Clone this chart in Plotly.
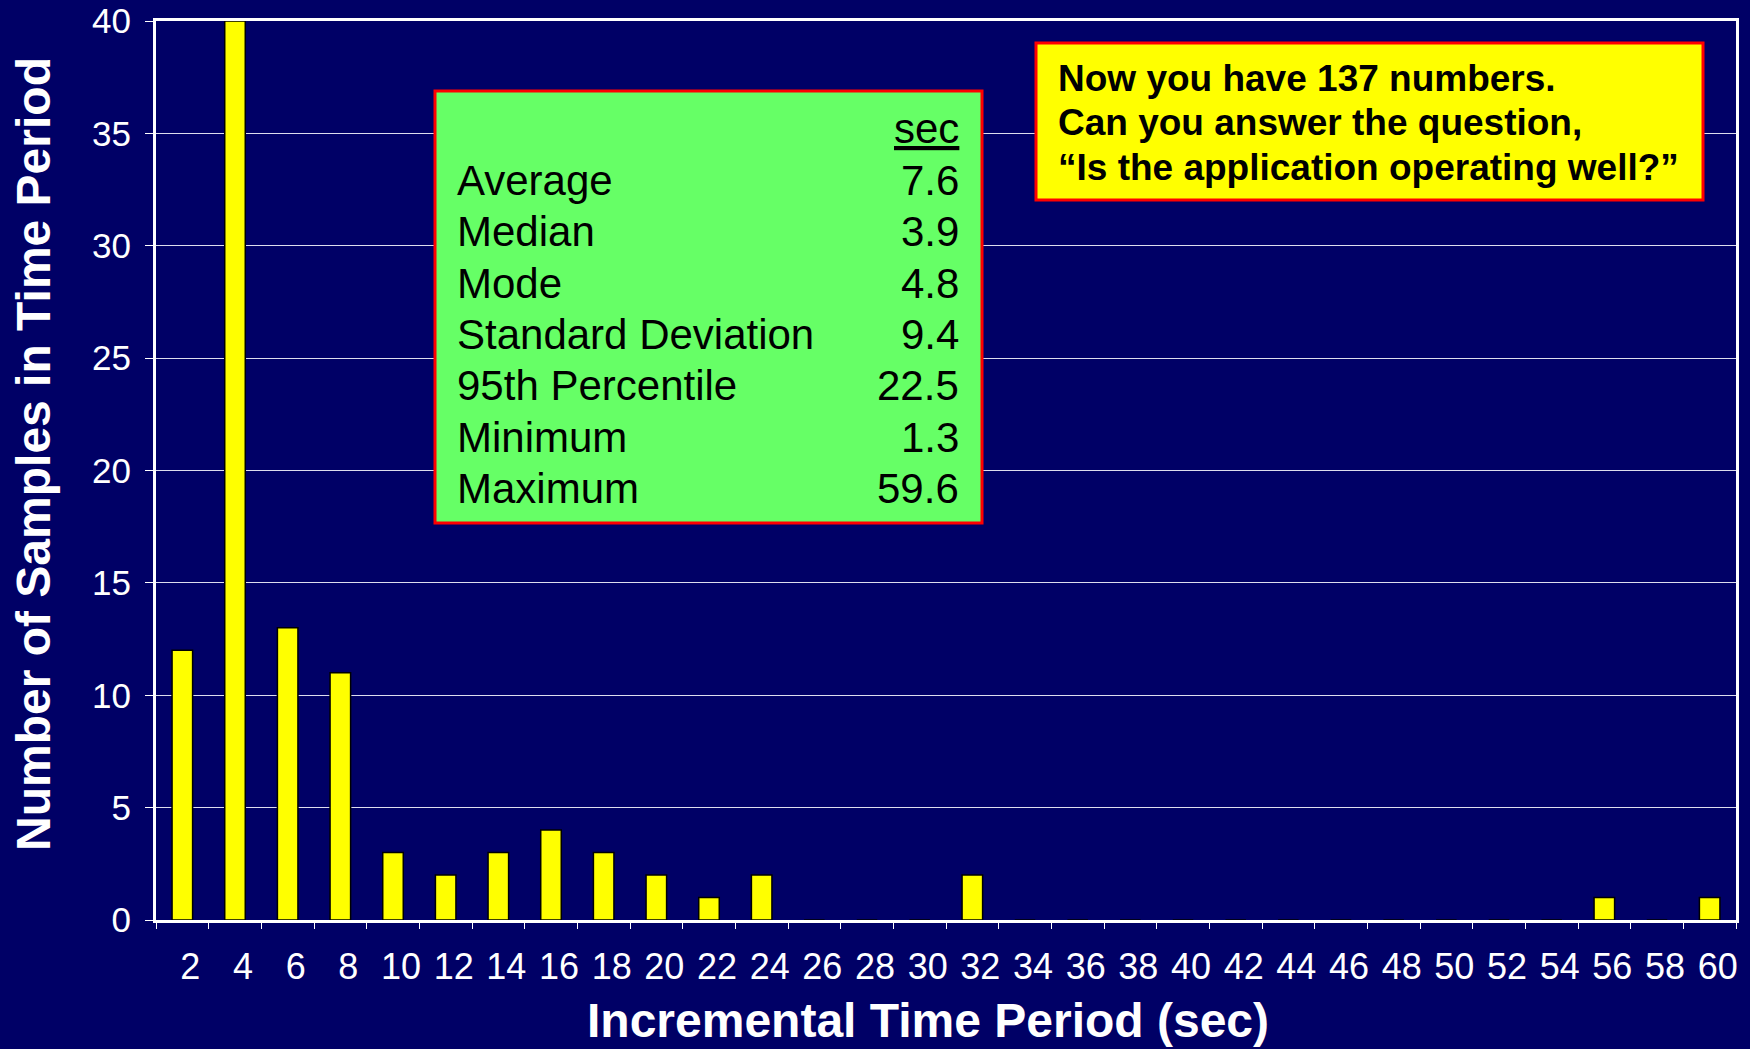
import plotly.graph_objects as go

# ---- data ----
bin_labels = [str(v) for v in range(2, 62, 2)]
counts = [12, 40, 13, 11, 3, 2, 3, 4, 3, 2, 1, 2, 0, 0, 0, 2, 0, 0, 0, 0,
          0, 0, 0, 0, 0, 0, 0, 1, 0, 1]
y_max = 40
y_step = 5

x_title = "Incremental Time Period (sec)"
y_title = "Number of Samples in Time Period"

stat_names = ["Average", "Median", "Mode", "Standard Deviation",
              "95th Percentile", "Minimum", "Maximum"]
stat_values = ["7.6", "3.9", "4.8", "9.4", "22.5", "1.3", "59.6"]
stat_unit = "sec"

callout_lines = ["Now you have 137 numbers.",
                 "Can you answer the question,",
                 "\u201cIs the application operating well?\u201d"]

# ---- layout geometry (pixels) ----
W_PX, H_PX = 1750, 1049
L, R, T, B = 156, 14, 21, 129
PW, PH = W_PX - L - R, H_PX - T - B


def px_x(px):
    return (px - L) / PW


def px_y(py):
    return 1 - (py - T) / PH


FONT = "Liberation Sans, Arial, Helvetica, sans-serif"
BG = "#000066"

fig = go.Figure()
fig.add_trace(go.Bar(
    x=bin_labels, y=counts,
    marker=dict(color="#FFFF00", line=dict(color="#000000", width=1.5)),
    hoverinfo="x+y", cliponaxis=False,
))

fig.update_layout(
    width=W_PX, height=H_PX,
    paper_bgcolor=BG, plot_bgcolor=BG,
    margin=dict(l=L, r=R, t=T, b=B, autoexpand=False),
    bargap=0.61,
    showlegend=False,
    font=dict(family=FONT, color="white"),
)

fig.update_xaxes(
    type="category",
    automargin=False,
    tickson="boundaries",
    ticks="outside", ticklen=6, tickwidth=1, tickcolor="white",
    tickfont=dict(size=36, color="white", family=FONT),
    ticklabelshift=8, ticklabelstandoff=13,
    showline=True, linecolor="white", linewidth=3, mirror=True,
    showgrid=False,
)
fig.update_yaxes(
    automargin=False,
    range=[0, y_max], tick0=0, dtick=y_step,
    ticks="outside", ticklen=8, tickwidth=1, tickcolor="white",
    tickfont=dict(size=35, color="white", family=FONT),
    ticklabelstandoff=7,
    showline=True, linecolor="white", linewidth=3, mirror=True,
    showgrid=True, gridcolor="#DDDDEE", gridwidth=1,
    zeroline=False,
)

# axis titles
fig.add_annotation(xref="paper", yref="paper", x=px_x(928), y=px_y(1021),
                   xanchor="center", yanchor="middle", showarrow=False,
                   text="<b>" + x_title + "</b>",
                   font=dict(size=48, color="white", family=FONT))
fig.add_annotation(xref="paper", yref="paper", x=px_x(34), y=px_y(454),
                   xanchor="center", yanchor="middle", showarrow=False,
                   textangle=-90,
                   text="<b>" + y_title + "</b>",
                   font=dict(size=48, color="white", family=FONT))

# green stats box
fig.add_shape(type="rect", xref="paper", yref="paper",
              x0=px_x(435), x1=px_x(982), y0=px_y(523), y1=px_y(91),
              fillcolor="#66FF66", line=dict(color="#FF0000", width=3),
              layer="above")
# yellow callout box
fig.add_shape(type="rect", xref="paper", yref="paper",
              x0=px_x(1036), x1=px_x(1703), y0=px_y(200), y1=px_y(43),
              fillcolor="#FFFF00", line=dict(color="#FF0000", width=3),
              layer="above")

fig.add_annotation(xref="paper", yref="paper", x=px_x(961), y=px_y(129),
                   xanchor="right", yanchor="middle", showarrow=False,
                   text="<u>" + stat_unit + "</u>",
                   font=dict(size=42, color="black", family=FONT))
for i, (name, val) in enumerate(zip(stat_names, stat_values)):
    yc = 180 + 51.5 * i
    fig.add_annotation(xref="paper", yref="paper", x=px_x(455), y=px_y(yc),
                       xanchor="left", yanchor="middle", showarrow=False,
                       text=name, font=dict(size=42, color="black", family=FONT))
    fig.add_annotation(xref="paper", yref="paper", x=px_x(961), y=px_y(yc),
                       xanchor="right", yanchor="middle", showarrow=False,
                       text=val, font=dict(size=42, color="black", family=FONT))

for i, line in enumerate(callout_lines):
    yc = 78.3 + 44.6 * i
    fig.add_annotation(xref="paper", yref="paper", x=px_x(1056), y=px_y(yc),
                       xanchor="left", yanchor="middle", showarrow=False,
                       text="<b>" + line + "</b>",
                       font=dict(size=37, color="black", family=FONT))

fig.write_html(
    "out.html",
    config={"displayModeBar": False},
    post_script="document.body.style.margin='0';"
                "document.body.style.background='#000066';"
                "document.body.style.overflow='hidden';",
)
